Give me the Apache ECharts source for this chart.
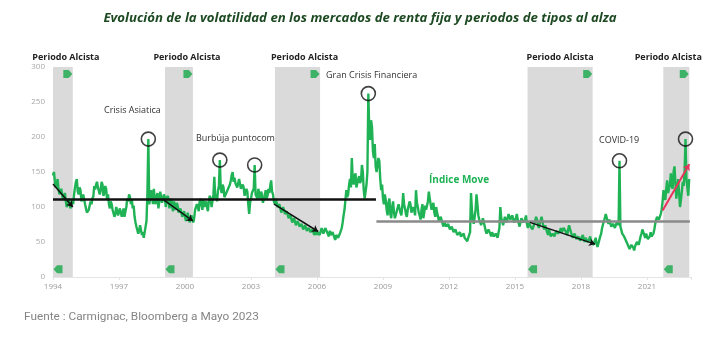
<!DOCTYPE html>
<html><head><meta charset="utf-8">
<script src="https://cdn.jsdelivr.net/npm/echarts@6/dist/echarts.min.js"></script>
<style>html,body{margin:0;padding:0;background:#fff}#c{width:720px;height:340px}</style>
</head><body><div id="c"></div>
<script>
const BASE_YEAR = 1994;
const POINTS_PER_YEAR = 24;
const xTickLabels = ['1994','1997','2000','2003','2006','2009','2012','2015','2018','2021'];
const yTickLabels = ['0','50','100','150','200','250','300'];

// Índice MOVE, semi-monthly readings (24 per year)
const move1994to1998 = [
  145,150,138,128,132,140,126,118,120,126,118,110,112,120,108,100,103,112,106,98,100,110,104,118,
  128,136,140,122,118,128,124,108,112,118,120,104,98,92,90,96,94,108,104,112,115,130,125,132,
  136,128,130,118,124,136,132,116,120,130,126,110,118,104,98,108,104,96,94,86,90,100,98,88,
  88,98,96,86,92,98,86,94,100,112,108,118,114,104,110,98,102,86,78,72,70,62,66,74,
  72,60,64,56,58,72,80,120,197,104,112,124,118,104,126,110,104,116,120,98,108,122,114,106
];
const move1999to2003 = [
  108,118,114,100,102,116,112,98,106,112,100,94,108,100,96,106,102,92,90,98,98,86,88,94,
  92,80,84,92,90,78,80,88,86,78,84,96,96,104,100,94,108,112,104,96,110,100,100,108,
  100,94,108,116,112,100,100,118,143,112,118,108,124,130,167,126,120,132,128,114,112,120,118,126,
  126,132,138,146,150,136,142,134,136,128,130,140,138,126,124,132,128,116,118,126,122,104,90,106,
  112,120,118,126,160,118,120,112,126,118,112,122,118,106,108,116,124,112,116,126,120,130,138,122
];
const move2004to2008 = [
  118,108,104,112,110,100,98,104,102,92,94,100,96,90,88,94,92,84,84,88,86,78,80,84,
  82,74,76,80,78,72,72,76,74,68,68,74,72,66,66,70,70,64,64,68,66,60,62,66,
  60,64,66,60,62,70,68,62,64,70,72,64,62,58,66,60,58,64,64,56,53,60,62,56,
  58,62,64,70,78,88,96,110,124,114,118,132,140,128,170,138,132,144,148,128,126,140,144,134,
  138,160,150,124,112,122,132,150,262,210,196,224,214,180,170,190,158,150,148,170,166,140,124,132
];
const move2009to2013 = [
  112,104,118,110,96,88,106,112,90,84,100,108,92,84,86,94,96,104,102,92,88,100,120,104,
  98,90,86,96,94,108,104,92,90,100,96,88,124,106,100,92,88,82,96,104,84,92,102,96,
  94,108,122,112,104,96,98,106,92,86,100,92,86,80,78,86,84,76,72,78,80,72,70,76,
  76,68,66,72,70,64,62,68,68,60,58,62,64,58,56,60,62,56,54,58,51,56,58,64,
  120,96,82,76,78,96,118,104,88,82,80,74,76,84,84,72,66,62,60,68,70,62,58,64
];
const move2014to2018 = [
  64,58,56,62,62,56,58,70,100,84,80,74,76,86,88,78,78,90,92,82,82,88,86,78,
  78,84,90,82,80,72,74,84,86,78,76,82,88,76,70,78,80,72,74,68,68,76,80,86,
  82,74,70,76,78,86,84,72,68,74,72,64,60,68,66,58,56,62,64,58,58,66,68,62,
  62,66,70,64,64,70,72,66,66,60,68,74,74,64,60,56,56,62,62,54,52,58,58,52,
  54,50,60,54,50,56,56,50,48,54,58,50,52,48,46,52,56,48,43,48,50,58,62,70
];
const move2019to2023 = [
  72,80,84,90,90,80,76,82,80,72,70,76,78,70,72,78,80,74,166,72,70,62,62,58,
  58,52,50,46,44,40,40,46,48,42,38,44,46,50,52,46,48,58,62,68,70,60,56,62,
  60,54,52,58,64,58,56,62,68,76,82,86,88,82,84,90,96,108,124,114,110,126,138,120,
  118,132,148,130,126,150,158,134,112,126,140,120,100,110,122,136,130,150,197,140,128,116,140
];

// Periodos alcistas (tipos al alza)
const bandStart = [1994.0, 1999.09, 2004.09, 2015.57, 2021.74];
const bandEnd   = [1994.9, 2000.36, 2006.14, 2018.53, 2022.92];
const bandText = 'Periodo Alcista';

// Circled peaks (years); the circle sits on the series value at that date
const peakYears = [1998.333, 2001.583, 2003.167, 2008.333, 2019.75, 2022.75];

// Horizontal reference levels
const levelFrom  = [1994.0, 2008.7];
const levelTo    = [2008.68, 2022.95];
const levelValue = [111, 79];

// Trend arrows
const trendFromYear  = [1994.0, 1999.0, 2004.05, 2015.68, 2021.71];
const trendFromValue = [133, 111, 104, 78, 95];
const trendToYear    = [1994.9, 2000.36, 2006.05, 2018.64, 2022.92];
const trendToValue   = [100, 80, 65, 47, 161];

const annotations = ['Crisis Asiatica', 'Burbúja puntocom', 'Gran Crisis Financiera', 'COVID-19'];
const seriesName = 'Índice Move';
const titleText = 'Evolución de la volatilidad en los mercados de renta fija y periodos de tipos al alza';
const sourceText = 'Fuente : Carmignac, Bloomberg a Mayo 2023';

const moveValues = [].concat(move1994to1998, move1999to2003, move2004to2008, move2009to2013, move2014to2018, move2019to2023);
const moveData = moveValues.map((v, i) => [i / POINTS_PER_YEAR, v]);
const rel = y => y - BASE_YEAR;

const GREEN = '#1fb356';
const chart = echarts.init(document.getElementById('c'), null, {renderer: 'canvas'});

const bandLabelOffsets = [3, 8, 7, 0, -8];

const option = {
  animation: false,
  backgroundColor: '#fff',
  title: {
    text: titleText, left: 'center', top: 7,
    textStyle: {fontFamily: 'Open Sans', fontSize: 13.2, fontStyle: 'italic', fontWeight: 'bold', color: '#1d4a22'}
  },
  grid: {left: 53, right: 29, top: 67, bottom: 63},
  xAxis: {
    type: 'value', min: 0, max: 29, interval: 3,
    axisLine: {lineStyle: {color: '#e4e4e4', width: 1}},
    axisTick: {show: true, length: 3, lineStyle: {color: '#e4e4e4'}},
    splitLine: {show: false},
    axisLabel: {
      color: '#9a9a9a', fontSize: 8, fontFamily: 'Open Sans', margin: 6,
      formatter: v => (v % 3 === 0 ? (xTickLabels[v / 3] || '') : '')
    }
  },
  yAxis: {
    type: 'value', min: 0, max: 300, interval: 50,
    axisLine: {show: false}, axisTick: {show: false}, splitLine: {show: false},
    axisLabel: {color: '#a8a8a8', fontSize: 8, fontFamily: 'Open Sans', margin: 8,
      formatter: v => yTickLabels[v / 50]}
  },
  series: [
    {
      type: 'line', data: [], z: 1, silent: true,
      markArea: {
        silent: true,
        itemStyle: {color: '#dadada'},
        label: {show: true, position: 'top', distance: 5, color: '#222', fontFamily: 'Open Sans', fontWeight: 'bold', fontSize: 9},
        data: bandStart.map((s, i) => [
          {xAxis: rel(s), name: bandText, label: {offset: [bandLabelOffsets[i], 0]}},
          {xAxis: rel(bandEnd[i])}
        ])
      }
    },
    {
      name: seriesName, type: 'line', data: moveData, z: 3,
      showSymbol: false, symbol: 'none', sampling: null,
      lineStyle: {color: GREEN, width: 2.4},
      silent: true
    },
    {
      type: 'line', data: [], z: 4, silent: true,
      markLine: {
        silent: true, symbol: ['none', 'none'], animation: false,
        label: {show: false},
        data: levelFrom.map((f, i) => [
          {coord: [rel(f), levelValue[i]], lineStyle: {color: i === 0 ? '#111' : '#8a8a8a', width: 2.5, type: 'solid'}},
          {coord: [rel(levelTo[i]), levelValue[i]]}
        ])
      }
    },
    {
      type: 'line', data: [], z: 5, silent: true,
      markLine: {
        silent: true, symbol: ['none', 'arrow'], symbolSize: 6, animation: false,
        label: {show: false},
        data: trendFromYear.map((f, i) => [
          {coord: [rel(f), trendFromValue[i]], lineStyle: {color: i === 4 ? '#e8335a' : '#111', width: i === 4 ? 2 : 1.5, type: 'solid'},
            itemStyle: {color: i === 4 ? '#e8335a' : '#111'}},
          {coord: [rel(trendToYear[i]), trendToValue[i]]}
        ])
      }
    },
    {
      type: 'scatter', z: 6, silent: true,
      symbol: 'circle', symbolSize: 14,
      itemStyle: {color: 'rgba(0,0,0,0)', borderColor: '#111', borderWidth: 1.6},
      data: peakYears.map(y => moveData[Math.round(rel(y) * POINTS_PER_YEAR)])
    },
    {
      type: 'scatter', z: 6, silent: true,
      symbol: 'path://M0,0 L6,0 L10,5 L6,10 L0,10 Z', symbolSize: [9, 8], symbolOffset: [-5, 0],
      itemStyle: {color: '#17a94a'},
      data: bandEnd.map(e => [rel(e), 290])
    },
    {
      type: 'scatter', z: 6, silent: true,
      symbol: 'path://M10,0 L4,0 L0,5 L4,10 L10,10 Z', symbolSize: [9, 8], symbolOffset: [5, 0],
      itemStyle: {color: '#17a94a'},
      data: bandStart.map(s => [rel(s), 11])
    }
  ],
  graphic: [
    {type: 'text', left: 104, top: 106, style: {text: annotations[0], fill: '#333', font: '9px "Open Sans"'}},
    {type: 'text', left: 196, top: 134, style: {text: annotations[1], fill: '#333', font: '9px "Open Sans"'}},
    {type: 'text', left: 326, top: 71, style: {text: annotations[2], fill: '#333', font: '9px "Open Sans"'}},
    {type: 'text', left: 599, top: 136, style: {text: annotations[3], fill: '#333', font: '9px "Open Sans"'}},
    {type: 'text', left: 429, top: 175, style: {text: seriesName, fill: GREEN, font: 'bold 10px "Open Sans"'}},
    {type: 'text', left: 24, top: 311, style: {text: sourceText, fill: '#858585', font: '11.8px Roboto'}}
  ]
};
chart.setOption(option);
</script>
</body></html>
